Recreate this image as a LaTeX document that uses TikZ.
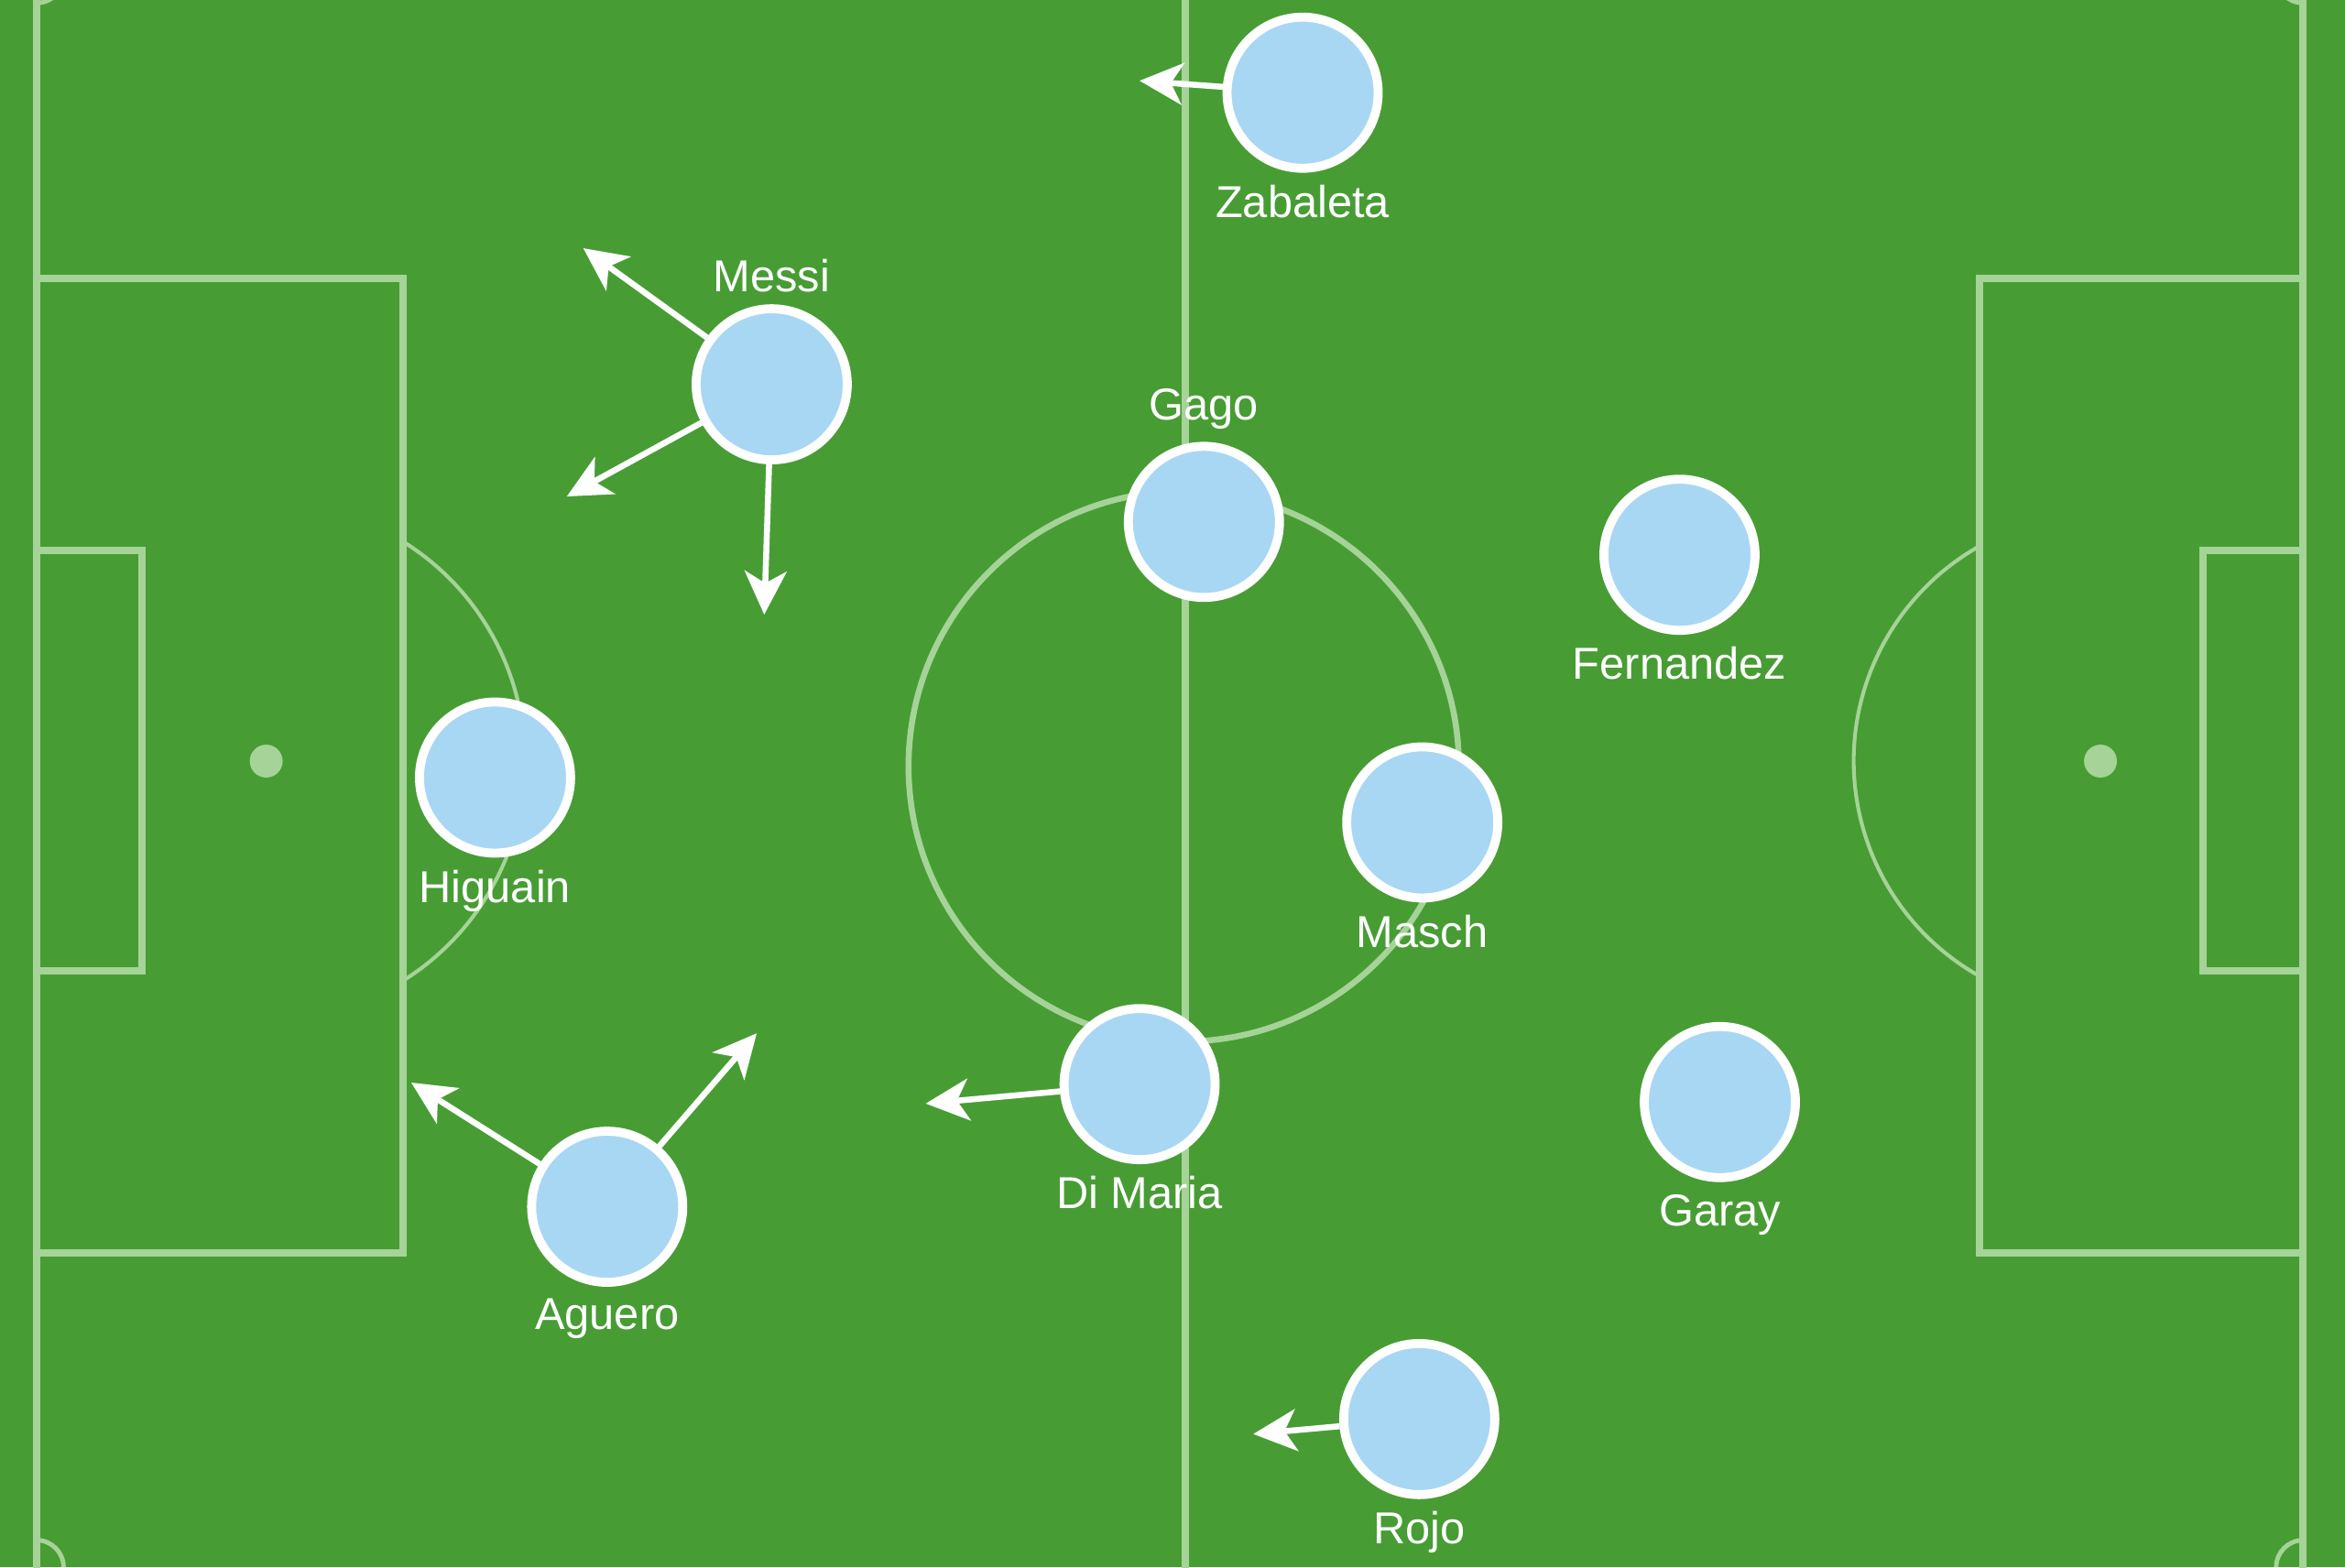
\documentclass[tikz,border=0pt]{standalone}
\usepackage{fontspec}
\setmainfont{Liberation Sans}
\usetikzlibrary{arrows.meta}
\definecolor{pitchgreen}{RGB}{71,157,52}
\definecolor{pitchline}{RGB}{166,211,152}
\definecolor{shirt}{RGB}{168,215,243}
\tikzset{
  field/.style={draw=pitchline, line width=0.05cm},
  thinfield/.style={draw=pitchline, line width=0.025cm},
  player/.style={circle, fill=shirt, draw=white, line width=0.06cm, minimum size=1.01cm, inner sep=0pt},
  runarrow/.style={draw=white, line width=0.04cm, -{Stealth[length=0.29cm,width=0.28cm,inset=0.08cm]}},
  every label/.style={text=white, font=\fontsize{8.5}{10}\selectfont, inner sep=1pt}
}
\begin{document}
\begin{tikzpicture}[x=0.01cm, y=-0.01cm, label distance=0.04cm]
    \path[use as bounding box, fill=pitchgreen] (0,0) rectangle (1568,1048);
    \clip (0,0) rectangle (1568,1048);
    % pitch markings
    \draw[field] (24.5,-20) -- (24.5,1070);
    \draw[field] (1540,-20) -- (1540,1070);
    \draw[field] (792.5,-20) -- (792.5,1070);
    \draw[field] (24.5,186) -- (269.5,186) -- (269.5,838) -- (24.5,838);
    \draw[field] (24.5,368) -- (95,368) -- (95,649) -- (24.5,649);
    \draw[field] (1540,186) -- (1323.5,186) -- (1323.5,838) -- (1540,838);
    \draw[field] (1540,368) -- (1473,368) -- (1473,649) -- (1540,649);
    \draw[field, line width=0.04cm] (791.5,512.5) circle[radius=184];
    \draw[thinfield] ([shift={(-58.3:173)}]178,509) arc[start angle=-58.3, end angle=58.3, radius=173];
    \draw[thinfield] ([shift={(119.8:165)}]1404.5,509) arc[start angle=119.8, end angle=240.2, radius=165];
    \fill[pitchline] (178,509) circle[radius=11];
    \fill[pitchline] (1404.5,509) circle[radius=11];
    \draw[thinfield, line width=0.03cm] ([shift={(0:18)}]24.5,-16) arc[start angle=0, end angle=90, radius=18];
    \draw[thinfield, line width=0.03cm] ([shift={(-90:18)}]24.5,1048) arc[start angle=-90, end angle=0, radius=18];
    \draw[thinfield, line width=0.03cm] ([shift={(90:18)}]1540,-16) arc[start angle=90, end angle=180, radius=18];
    \draw[thinfield, line width=0.03cm] ([shift={(180:18)}]1540,1048) arc[start angle=180, end angle=270, radius=18];
    % players
    \node[player, label={below:Zabaleta}] (zabaleta) at (871,62) {};
    \node[player, label={above:Messi}] (messi) at (516,257) {};
    \node[player, label={above:Gago}] (gago) at (805,349) {};
    \node[player, label={below:Fernandez}] (fernandez) at (1123,371) {};
    \node[player, label={below:Higuain}] (higuain) at (331,520) {};
    \node[player, label={below:Masch}] (masch) at (951,550) {};
    \node[player, label={below:Di Maria}] (dimaria) at (762,725) {};
    \node[player, label={below:Aguero}] (aguero) at (406,807) {};
    \node[player, label={below:Garay}] (garay) at (1150,737) {};
    \node[player, label={below:Rojo}] (rojo) at (949,949) {};
    % runs
    \coordinate (zabaleta-run) at (762,54);
    \coordinate (messi-up) at (390,166);
    \coordinate (messi-left) at (379,332);
    \coordinate (messi-down) at (511,411);
    \coordinate (aguero-left) at (275,724);
    \coordinate (aguero-right) at (506,691);
    \coordinate (dimaria-run) at (619,738);
    \coordinate (rojo-run) at (838,959);
    \draw[runarrow] (zabaleta) -- (zabaleta-run);
    \draw[runarrow] (messi) -- (messi-up);
    \draw[runarrow] (messi) -- (messi-left);
    \draw[runarrow] (messi) -- (messi-down);
    \draw[runarrow] (aguero) -- (aguero-left);
    \draw[runarrow] (aguero) -- (aguero-right);
    \draw[runarrow] (dimaria) -- (dimaria-run);
    \draw[runarrow] (rojo) -- (rojo-run);
  \end{tikzpicture}
\end{document}
